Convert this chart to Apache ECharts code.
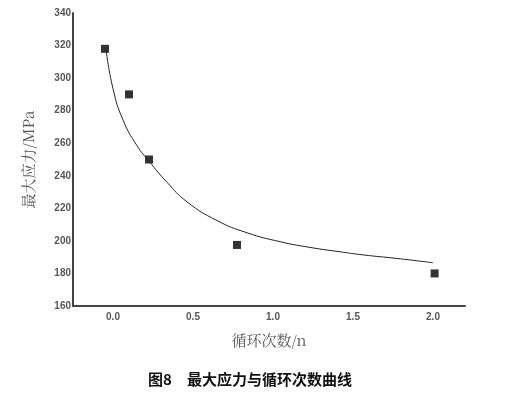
<!DOCTYPE html>
<html><head><meta charset="utf-8">
<script src="https://cdn.jsdelivr.net/npm/echarts@6/dist/echarts.min.js"></script>
<style>html,body{margin:0;padding:0;background:#fff}#c{width:506px;height:395px}</style>
</head><body><div id="c"></div>
<script>
// Measured data points (cycles n, max stress MPa)
var pointX = [-0.05, 0.1, 0.225, 0.775, 2.01];
var pointY = [318, 290, 250, 197.5, 180];
// Fitted curve samples
var curveX = [-0.044, 0, 0.0625, 0.15, 0.225, 0.3375, 0.4625, 0.65, 0.8375, 1.044, 1.231, 1.419, 1.5625, 1.775, 2.0];
var curveY = [317.9, 293.5, 274.3, 258.5, 249.0, 236.0, 224.0, 212.5, 205.0, 199.5, 196.0, 193.3, 191.4, 189.2, 186.6];
var yTicks = [160, 180, 200, 220, 240, 260, 280, 300, 320, 340];
var xTicks = [0.0, 0.5, 1.0, 1.5, 2.0];
var xName = '循环次数/n';
var yName = '最大应力/MPa';
var caption = '图8　最大应力与循环次数曲线';

var chart = echarts.init(document.getElementById('c'));
var pts = pointX.map(function(x,i){return [x, pointY[i]];});
var crv = curveX.map(function(x,i){return [x, curveY[i]];});
chart.setOption({
  animation:false,
  title:{text:caption,left:245,textAlign:'center',top:367,
    textStyle:{fontSize:15,fontWeight:'bold',color:'#111',fontFamily:'Noto Sans CJK SC'}},
  grid:{left:73,right:41,top:13,bottom:89},
  xAxis:{type:'value',min:-0.25,max:2.2,
    name:xName,nameLocation:'middle',nameGap:27,
    nameTextStyle:{fontSize:15,color:'#555',fontFamily:'Noto Serif CJK SC, serif'},
    axisLine:{onZero:false,lineStyle:{color:'#444',width:2}},axisTick:{show:false},splitLine:{show:false},
    axisLabel:{color:'#555',fontSize:10,fontWeight:'bold',margin:6,
      customValues:xTicks,formatter:function(v){return v.toFixed(1);}}},
  yAxis:{type:'value',min:160,max:340,interval:20,
    name:yName,nameLocation:'middle',nameGap:37,nameRotate:90,
    nameTextStyle:{fontSize:15,color:'#555',fontFamily:'Noto Serif CJK SC, serif'},
    axisLine:{show:true,onZero:false,lineStyle:{color:'#444',width:2}},axisTick:{show:false},splitLine:{show:false},
    axisLabel:{color:'#555',fontSize:10,fontWeight:'bold',margin:2,customValues:yTicks}},
  series:[
    {type:'line',data:crv,smooth:0.5,showSymbol:false,lineStyle:{color:'#222',width:1},silent:true},
    {type:'scatter',data:pts,symbol:'rect',symbolSize:8,itemStyle:{color:'#000'}}
  ]
});
</script></body></html>
